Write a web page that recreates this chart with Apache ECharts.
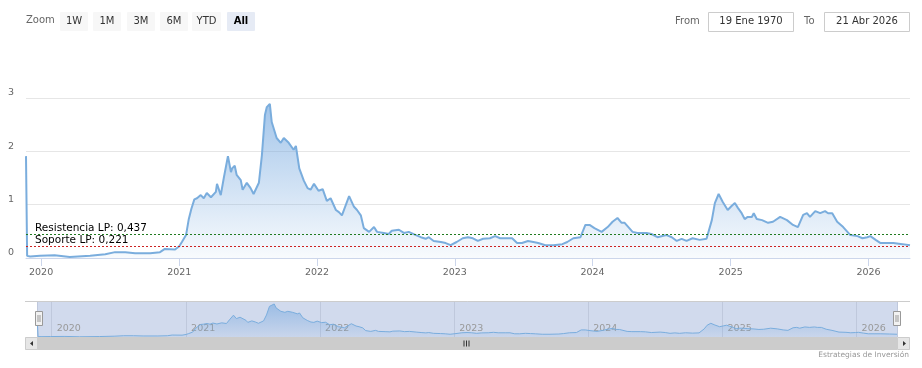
<!DOCTYPE html>
<html><head><meta charset="utf-8">
<script src="https://cdn.jsdelivr.net/npm/echarts@6/dist/echarts.min.js"></script>
<style>html,body{margin:0;padding:0;background:#fff}#c{width:922px;height:368px}</style>
</head><body><div id="c"></div>
<script>
// ---- data ----
const dates = [
'2019-11-22','2019-11-25','2019-12-03','2019-12-29','2020-02-06','2020-03-17','2020-05-10','2020-06-19','2020-07-15','2020-08-11',
'2020-09-06','2020-10-16','2020-11-11','2020-11-24','2020-12-21','2021-01-01','2021-01-08','2021-01-19','2021-01-26','2021-02-02',
'2021-02-10','2021-02-17','2021-02-27','2021-03-07','2021-03-15','2021-03-26','2021-04-08','2021-04-11','2021-04-21','2021-04-29',
'2021-05-10','2021-05-18','2021-05-21','2021-05-28','2021-06-02','2021-06-13','2021-06-18','2021-06-29','2021-07-09','2021-07-17',
'2021-07-31','2021-08-08','2021-08-16','2021-08-21','2021-08-29','2021-09-03','2021-09-16','2021-09-27','2021-10-05','2021-10-18',
'2021-10-31','2021-11-06','2021-11-15','2021-11-27','2021-12-07','2021-12-15','2021-12-24','2022-01-05','2022-01-16','2022-01-27',
'2022-02-06','2022-02-20','2022-02-28','2022-03-08','2022-03-27','2022-04-09','2022-04-17','2022-04-27','2022-05-05','2022-05-19',
'2022-06-01','2022-06-09','2022-06-27','2022-07-10','2022-07-18','2022-08-06','2022-08-19','2022-09-01','2022-09-20','2022-10-03',
'2022-10-16','2022-10-24','2022-11-06','2022-11-25','2022-12-08','2022-12-21','2023-01-06','2023-01-22','2023-02-05','2023-02-18',
'2023-03-03','2023-03-17','2023-04-04','2023-04-18','2023-05-01','2023-05-20','2023-06-02','2023-06-15','2023-06-28','2023-07-14',
'2023-07-28','2023-08-10','2023-08-29','2023-09-19','2023-10-13','2023-10-26','2023-11-11','2023-11-30','2023-12-13','2023-12-24',
'2024-01-06','2024-01-25','2024-02-10','2024-02-23','2024-03-07','2024-03-18','2024-03-26','2024-04-16','2024-04-29','2024-05-23',
'2024-06-05','2024-06-21','2024-07-15','2024-07-29','2024-08-11','2024-08-24','2024-09-06','2024-09-22','2024-10-11','2024-10-29',
'2024-11-12','2024-11-20','2024-11-30','2024-12-11','2024-12-24','2025-01-04','2025-01-12','2025-01-20','2025-01-30','2025-02-07',
'2025-02-15','2025-02-26','2025-03-03','2025-03-11','2025-03-25','2025-04-10','2025-04-23','2025-05-12','2025-05-30','2025-06-15',
'2025-06-28','2025-07-12','2025-07-22','2025-07-30','2025-08-13','2025-08-26','2025-09-08','2025-09-16','2025-09-27','2025-10-10',
'2025-10-26','2025-11-14','2025-12-03','2025-12-16','2025-12-29','2026-01-06','2026-01-20','2026-02-02','2026-02-20','2026-03-08',
'2026-04-01','2026-04-21'
];
const values = [
1.91,0.04,0.03,0.04,0.05,0.02,0.04,0.07,0.11,0.11,
0.09,0.09,0.11,0.17,0.16,0.22,0.30,0.43,0.72,0.92,
1.10,1.12,1.18,1.12,1.22,1.14,1.24,1.39,1.18,1.50,
1.91,1.61,1.68,1.73,1.56,1.46,1.28,1.41,1.31,1.20,
1.41,1.93,2.68,2.83,2.89,2.55,2.25,2.16,2.25,2.16,
2.03,2.10,1.68,1.45,1.31,1.28,1.39,1.26,1.29,1.07,
1.12,0.90,0.86,0.80,1.16,0.96,0.90,0.80,0.56,0.49,
0.58,0.49,0.47,0.45,0.51,0.53,0.47,0.49,0.43,0.39,
0.36,0.39,0.32,0.30,0.28,0.24,0.30,0.37,0.39,0.37,
0.32,0.36,0.37,0.41,0.37,0.37,0.37,0.28,0.28,0.32,
0.30,0.28,0.24,0.24,0.26,0.30,0.37,0.39,0.62,0.62,
0.56,0.49,0.58,0.68,0.75,0.66,0.66,0.49,0.47,0.47,
0.45,0.39,0.43,0.39,0.32,0.36,0.32,0.37,0.34,0.36,
0.71,1.03,1.20,1.05,0.90,0.98,1.03,0.94,0.84,0.73,
0.77,0.77,0.84,0.73,0.71,0.66,0.68,0.77,0.71,0.62,
0.58,0.81,0.84,0.77,0.88,0.84,0.88,0.84,0.84,0.68,
0.58,0.43,0.41,0.37,0.39,0.41,0.34,0.28,0.28,0.28,
0.26,0.24
];
const yMin = 0, yMax = 3, yStep = 1;
const resistance = 0.437;
const support = 0.221;
const rangeStart = '2019-11-22';
const rangeEnd = '2026-04-21';
const zoomButtons = ['1W','1M','3M','6M','YTD','All'];
const fromText = '19 Ene 1970';
const toText = '21 Abr 2026';
const creditText = 'Estrategias de Inversión';

// ---- chart ----
const FONT = 'DejaVu Sans';
const DAY = 864e5;
const seriesData = dates.map((d, i) => [d, values[i]]);
const fmt = v => v.toString().replace('.', ',');
const chart = echarts.init(document.getElementById('c'), null, {renderer: 'canvas'});

const graphic = [];
// range selector
graphic.push({type:'text', left:26, top:15, style:{text:'Zoom', fill:'#666', font:'10px ' + FONT}});
const btnX = [60, 93, 127, 160, 192, 227];
const btnW = [28, 28, 28, 28, 29, 28];
zoomButtons.forEach((b, i) => {
  const sel = b === 'All';
  graphic.push({type:'rect', shape:{x:btnX[i], y:12, width:btnW[i], height:19, r:1}, style:{fill: sel ? '#e6ebf5' : '#f7f7f7'}});
  graphic.push({type:'text', x:btnX[i] + btnW[i]/2, y:21.5, style:{text:b, fill: sel ? '#000' : '#333', font:(sel ? 'bold ' : '') + '10px ' + FONT, align:'center', verticalAlign:'middle'}});
});
graphic.push({type:'text', x:675, y:21.5, style:{text:'From', fill:'#666', font:'10px ' + FONT, verticalAlign:'middle'}});
graphic.push({type:'rect', shape:{x:708.5, y:12.5, width:85, height:19}, style:{fill:'#fff', stroke:'#cccccc', lineWidth:1}});
graphic.push({type:'text', x:751, y:21.5, style:{text:fromText, fill:'#333', font:'10px ' + FONT, align:'center', verticalAlign:'middle'}});
graphic.push({type:'text', x:804, y:21.5, style:{text:'To', fill:'#666', font:'10px ' + FONT, verticalAlign:'middle'}});
graphic.push({type:'rect', shape:{x:824.5, y:12.5, width:85, height:19}, style:{fill:'#fff', stroke:'#cccccc', lineWidth:1}});
graphic.push({type:'text', x:867, y:21.5, style:{text:toText, fill:'#333', font:'10px ' + FONT, align:'center', verticalAlign:'middle'}});
// navigator outline
graphic.push({type:'line', shape:{x1:25, y1:301.5, x2:910, y2:301.5}, style:{stroke:'#cccccc', lineWidth:1}, z:50});
// handles
[[35,311],[893,311]].forEach(([hx, hy]) => {
  graphic.push({type:'rect', shape:{x:hx + 0.5, y:hy + 0.5, width:7, height:14}, style:{fill:'#f2f2f2', stroke:'#999', lineWidth:1}, z:60});
  graphic.push({type:'line', shape:{x1:hx + 3, y1:hy + 4, x2:hx + 3, y2:hy + 11}, style:{stroke:'#999', lineWidth:1}, z:61});
  graphic.push({type:'line', shape:{x1:hx + 5, y1:hy + 4, x2:hx + 5, y2:hy + 11}, style:{stroke:'#999', lineWidth:1}, z:61});
});
// scrollbar
graphic.push({type:'rect', shape:{x:25, y:337, width:885, height:13}, style:{fill:'#f2f2f2'}, z:40});
graphic.push({type:'rect', shape:{x:37, y:337, width:860, height:13}, style:{fill:'#cccccc'}, z:41});
graphic.push({type:'rect', shape:{x:25.5, y:337.5, width:12, height:12}, style:{fill:'#e6e6e6', stroke:'#cccccc', lineWidth:1}, z:42});
graphic.push({type:'rect', shape:{x:897.5, y:337.5, width:12, height:12}, style:{fill:'#e6e6e6', stroke:'#cccccc', lineWidth:1}, z:42});
graphic.push({type:'polygon', shape:{points:[[30,343.5],[33,341],[33,346]]}, style:{fill:'#333'}, z:43});
graphic.push({type:'polygon', shape:{points:[[906,343.5],[903,341],[903,346]]}, style:{fill:'#333'}, z:43});
[464, 466.5, 469].forEach(gx => graphic.push({type:'line', shape:{x1:gx, y1:340.5, x2:gx, y2:346.5}, style:{stroke:'#333', lineWidth:1}, z:43}));
// credit
graphic.push({type:'text', right:13, top:351, style:{text:creditText, fill:'#999', font:'7.5px ' + FONT}});

const mainGrad = new echarts.graphic.LinearGradient(0, 98, 0, 258, [
  {offset:0, color:'rgba(112,165,222,0.95)'},
  {offset:1, color:'rgba(112,165,222,0.07)'}
], true);
const navGrad = new echarts.graphic.LinearGradient(0, 301, 0, 337, [
  {offset:0, color:'rgba(112,165,222,0.85)'},
  {offset:1, color:'rgba(112,165,222,0.12)'}
], true);

const option = {
  animation: false,
  backgroundColor: '#fff',
  textStyle: {fontFamily: FONT},
  graphic: graphic,
  grid: [
    {left:26, right:12, top:98, height:160},
    {left:37, right:25, top:301, height:36, show:true, backgroundColor:'rgba(102,133,194,0.3)', borderWidth:0}
  ],
  xAxis: [
    {type:'time', gridIndex:0, min:rangeStart, max:rangeEnd, minInterval:365*DAY, maxInterval:366*DAY,
     axisLine:{show:true, lineStyle:{color:'#ccd6eb'}},
     axisTick:{show:true, length:8, lineStyle:{color:'#ccd6eb'}},
     axisLabel:{formatter:'{yyyy}', color:'#666', fontSize:9.5, fontFamily:FONT, margin:10, hideOverlap:false},
     splitLine:{show:false}},
    {type:'time', gridIndex:1, min:rangeStart, max:rangeEnd, minInterval:365*DAY, maxInterval:366*DAY,
     axisLine:{show:false}, axisTick:{show:false},
     axisLabel:{formatter:'{yyyy}', inside:true, color:'#999', fontSize:9.5, fontFamily:FONT, align:'left', verticalAlign:'bottom', margin:3, padding:[0,0,0,5]},
     splitLine:{show:true, lineStyle:{color:'#bfc8dc', width:1}}}
  ],
  yAxis: [
    {type:'value', gridIndex:0, min:yMin, max:yMax, interval:yStep,
     axisLine:{show:false}, axisTick:{show:false},
     splitLine:{lineStyle:{color:'#e6e6e6'}},
     axisLabel:{color:'#666', fontSize:9.5, fontFamily:FONT, align:'left', margin:18, verticalAlign:'bottom', padding:[0,0,0,0]}},
    {type:'value', gridIndex:1, min:0, max:3.15, show:false, splitLine:{show:false}}
  ],
  series: [
    {type:'line', xAxisIndex:0, yAxisIndex:0, data:seriesData, showSymbol:false, symbol:'none',
     lineStyle:{color:'#7aaddd', width:2}, itemStyle:{color:'#7aaddd'}, areaStyle:{color:mainGrad, origin:'start'},
     markLine:{silent:true, symbol:'none', animation:false,
       data:[
         {yAxis:resistance, lineStyle:{color:'#1f7a1f', type:[2,2], width:1},
          label:{show:true, formatter:'Resistencia LP: ' + fmt(resistance), position:'insideStartTop', distance:[9,1], color:'#000', fontSize:10.5, fontFamily:FONT}},
         {yAxis:support, lineStyle:{color:'#cc2222', type:[2,2], width:1},
          label:{show:true, formatter:'Soporte LP: ' + fmt(support), position:'insideStartTop', distance:[9,1], color:'#000', fontSize:10.5, fontFamily:FONT}}
       ]}},
    {type:'line', xAxisIndex:1, yAxisIndex:1, data:seriesData, showSymbol:false, symbol:'none', silent:true,
     lineStyle:{color:'#7aaddd', width:1}, areaStyle:{color:navGrad, origin:'start'}}
  ]
};
chart.setOption(option);
</script>
</body></html>
